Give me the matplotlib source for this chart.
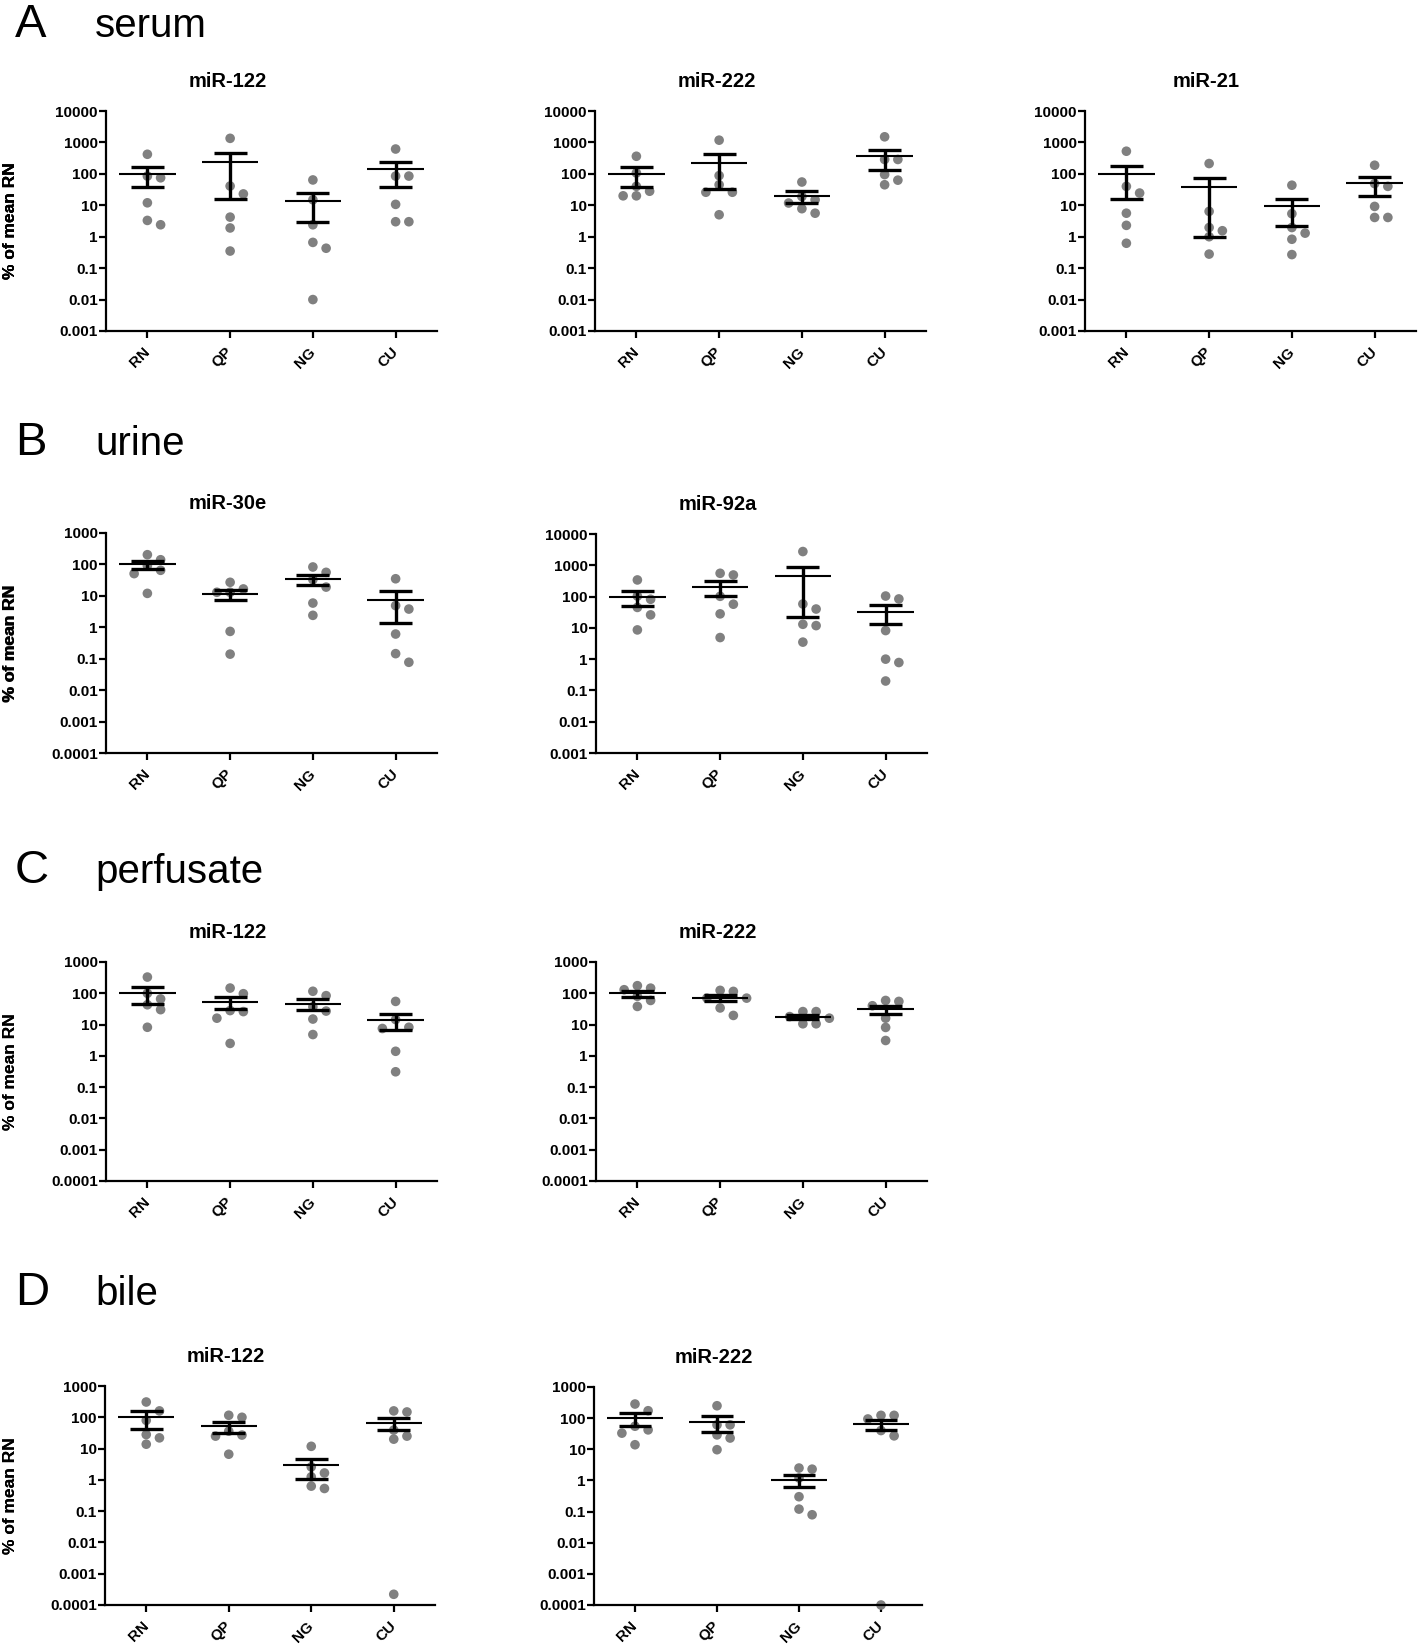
import numpy as np
import matplotlib
matplotlib.use('Agg')
import matplotlib.pyplot as plt
import matplotlib.transforms as mtransforms
from matplotlib.ticker import FixedLocator, FixedFormatter, NullLocator

groups = ['RN', 'QP', 'NG', 'CU']

# serum
serum_122 = [[420, 85, 75, 12, 3.3, 2.4],
             [1350, 41, 23, 4.2, 1.9, 0.35],
             [64, 15, 2.4, 0.66, 0.43, 0.01],
             [617, 85, 85, 10.7, 3.0, 3.0]]
serum_122_mean = [100, 234, 13.4, 140]
serum_122_sem = [63, 218, 10.5, 103]

serum_222 = [[363, 107, 40, 28, 20, 20],
             [1180, 88, 45, 26, 26, 5],
             [55, 19, 15, 11.8, 7.8, 5.6],
             [1510, 287, 287, 95, 63, 45]]
serum_222_mean = [100, 224, 20, 363]
serum_222_sem = [61, 190, 8, 230]

serum_21 = [[525, 40, 24.5, 5.6, 2.3, 0.62],
            [213, 6.4, 1.96, 1.55, 1.0, 0.28],
            [43.5, 5.4, 1.96, 1.3, 0.83, 0.27],
            [188, 49, 40, 9.2, 4.1, 4.1]]
serum_21_mean = [100, 37, 9.2, 51]
serum_21_sem = [84, 36, 7, 31]

# urine
urine_30e = [[204, 141, 91, 65, 51, 12],
             [27, 16.6, 13, 13, 0.74, 0.14],
             [83, 56, 33, 19, 5.9, 2.4],
             [35, 4.9, 3.8, 0.61, 0.145, 0.077]]
urine_30e_mean = [100, 11.5, 34.5, 7.6]
urine_30e_sem = [28, 4.3, 13, 6.2]

urine_92a = [[340, 104, 82, 45, 26, 8.6],
             [555, 490, 102, 57, 28, 4.9],
             [2750, 58, 40, 13, 11.8, 3.5],
             [104, 84, 8.2, 1.0, 0.78, 0.2]]
urine_92a_mean = [100, 209, 467, 33]
urine_92a_sem = [51, 106, 445, 20]

# perfusate
perf_122 = [[330, 100, 66, 43, 30, 8.2],
            [147, 97, 28, 26, 16, 2.5],
            [116, 84, 37, 27, 15, 4.8],
            [55, 14.5, 8.2, 7.5, 1.4, 0.31]]
perf_122_mean = [100, 53, 47, 14.5]
perf_122_sem = [55, 21, 18, 8]

perf_222 = [[175, 146, 130, 80, 59, 38],
            [124, 115, 70, 70, 34, 19.6],
            [26, 26, 18, 16, 10.6, 10.6],
            [59, 55, 40, 16, 8.1, 3.1]]
perf_222_mean = [100, 72, 17.4, 31]
perf_222_sem = [22, 17, 2.8, 9.5]

# bile
bile_122 = [[308, 160, 80, 28, 22, 13.8],
            [116, 100, 36, 27, 25, 6.6],
            [11.8, 2.6, 1.66, 1.25, 0.63, 0.53],
            [160, 148, 39, 25, 20, 0.00022]]
bile_122_mean = [100, 51, 2.9, 66]
bile_122_sem = [57, 19, 1.8, 26]

bile_222 = [[284, 173, 55, 42, 33, 14],
            [250, 61, 61, 29, 23, 9.7],
            [2.5, 2.3, 1.2, 0.3, 0.12, 0.079],
            [123, 123, 94, 40, 27, 0.0001]]
bile_222_mean = [100, 75, 1.05, 66]
bile_222_sem = [45, 38, 0.43, 23]

plt.rcParams['font.family'] = ['Liberation Sans', 'DejaVu Sans']
plt.rcParams['font.weight'] = 'bold'

W, H = 1418, 1646
fig = plt.figure(figsize=(W / 100, H / 100), dpi=100)

DOT_PX = 9.0
STEP = 0.16


def swarm(vals, decade_px):
    placed = []
    offs = []
    for v in vals:
        y = np.log10(v) * decade_px
        for s in [0, 1, -1, 2, -2, 3, -3]:
            if all(abs(y - py) >= DOT_PX for ps, py in placed if ps == s):
                break
        placed.append((s, y))
        offs.append(s * STEP)
    return np.array(offs)


def panel(box, title, data, mean, sem, ylo, yhi):
    left, top, right, bottom = box
    ax = fig.add_axes([left / W, 1 - bottom / H, (right - left) / W, (bottom - top) / H])
    decade_px = (bottom - top) / (np.log10(yhi) - np.log10(ylo))
    for i, vals in enumerate(data):
        offs = swarm(vals, decade_px)
        ax.scatter(i + offs, vals, s=48, color='#808080', edgecolors='none',
                   zorder=2, clip_on=False)
        lo, hi = mean[i] - sem[i], mean[i] + sem[i]
        ax.hlines(mean[i], i - 0.34, i + 0.34, color='black', lw=1.5, zorder=3)
        ax.vlines(i, lo, hi, color='black', lw=2.4, zorder=3)
        ax.hlines([lo, hi], i - 0.2, i + 0.2, color='black', lw=2.4, zorder=3)
    ax.set_yscale('log')
    ax.set_ylim(ylo, yhi)
    ax.set_xlim(-0.5, 3.5)
    dec = [10.0 ** k for k in range(int(round(np.log10(ylo))), int(round(np.log10(yhi))) + 1)]
    ax.yaxis.set_major_locator(FixedLocator(dec))
    ax.yaxis.set_major_formatter(FixedFormatter(['%g' % d for d in dec]))
    ax.yaxis.set_minor_locator(NullLocator())
    ax.set_xticks(range(len(groups)))
    ax.set_xticklabels(groups, rotation=45, ha='right', va='center',
                       rotation_mode='anchor', fontsize=11)
    off = mtransforms.ScaledTranslation(2 / 100, 0, fig.dpi_scale_trans)
    for lab in ax.get_xticklabels():
        lab.set_transform(lab.get_transform() + off)
    for s in ['top', 'right']:
        ax.spines[s].set_visible(False)
    for s in ['left', 'bottom']:
        ax.spines[s].set_linewidth(1.6)
    ax.tick_params(axis='y', direction='out', length=5, width=1.6, labelsize=11, pad=1)
    ax.tick_params(axis='x', direction='out', length=5, width=1.6, pad=8.5)
    ax.set_ylabel('% of mean RN', fontsize=12.5, fontweight='bold')
    ax.yaxis.set_label_coords(-(left - 18) / (right - left), 0.5)
    cx = (left + right) / 2 - 44
    fig.text(cx / W, 1 - (top - 24) / H, title, ha='center', va='baseline',
             fontsize=14.5, fontweight='bold')
    return ax


panel((106, 111, 437, 331), 'miR-122', serum_122, serum_122_mean, serum_122_sem, 0.001, 10000)
panel((595, 111, 926, 331), 'miR-222', serum_222, serum_222_mean, serum_222_sem, 0.001, 10000)
panel((1085, 111, 1416, 331), 'miR-21', serum_21, serum_21_mean, serum_21_sem, 0.001, 10000)

panel((106, 533, 437, 753), 'miR-30e', urine_30e, urine_30e_mean, urine_30e_sem, 0.0001, 1000)
panel((596, 534, 927, 753), 'miR-92a', urine_92a, urine_92a_mean, urine_92a_sem, 0.001, 10000)

panel((106, 962, 437, 1181), 'miR-122', perf_122, perf_122_mean, perf_122_sem, 0.0001, 1000)
panel((596, 962, 927, 1181), 'miR-222', perf_222, perf_222_mean, perf_222_sem, 0.0001, 1000)

panel((105, 1386, 435, 1605), 'miR-122', bile_122, bile_122_mean, bile_122_sem, 0.0001, 1000)
panel((594, 1387, 922, 1605), 'miR-222', bile_222, bile_222_mean, bile_222_sem, 0.0001, 1000)

sections = [('A', 'serum', 37), ('B', 'urine', 455), ('C', 'perfusate', 883), ('D', 'bile', 1305)]
for letter, word, base in sections:
    fig.text(15 / W, 1 - base / H, letter, fontsize=34, fontweight='normal', va='baseline')
    fig.text(95 / W, 1 - base / H, word, fontsize=29, fontweight='normal', va='baseline')

fig.savefig('out.png', dpi=100)
